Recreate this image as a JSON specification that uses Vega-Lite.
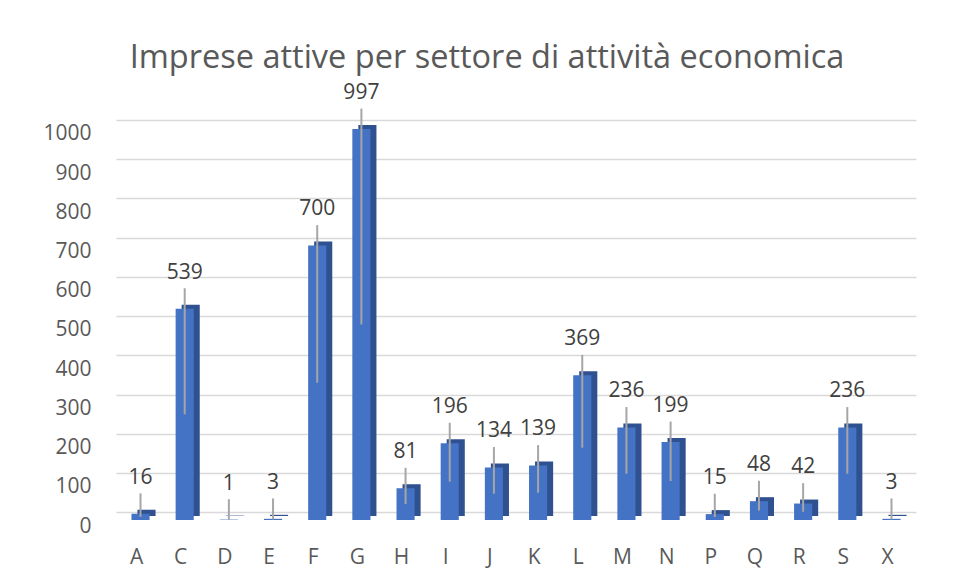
{
  "$schema": "https://vega.github.io/schema/vega-lite/v6.json",
  "width": 800,
  "height": 400,
  "autosize": "none",
  "padding": {"left": 116, "top": 120, "right": 41, "bottom": 62},
  "background": "white",
  "title": {
    "text": "Imprese attive per settore di attività economica",
    "font": "Open Sans",
    "fontSize": 32.5,
    "fontWeight": "normal",
    "color": "#595959",
    "anchor": "middle",
    "dx": -29,
    "dy": 69,
    "baseline": "alphabetic",
    "offset": 50
  },
  "config": {
    "view": {"stroke": null},
    "axis": {"labelFont": "Open Sans", "labelColor": "#595959", "labelFontSize": 21, "labelOverlap": false}
  },
  "data": {
    "values": [
      {"k": "A", "v": 16},
      {"k": "C", "v": 539},
      {"k": "D", "v": 1},
      {"k": "E", "v": 3},
      {"k": "F", "v": 700},
      {"k": "G", "v": 997},
      {"k": "H", "v": 81},
      {"k": "I", "v": 196},
      {"k": "J", "v": 134},
      {"k": "K", "v": 139},
      {"k": "L", "v": 369},
      {"k": "M", "v": 236},
      {"k": "N", "v": 199},
      {"k": "P", "v": 15},
      {"k": "Q", "v": 48},
      {"k": "R", "v": 42},
      {"k": "S", "v": 236},
      {"k": "X", "v": 3}
    ]
  },
  "transform": [
    {"calculate": "datum.v / 2", "as": "half"},
    {"calculate": "datum.v + 92", "as": "lab"},
    {"calculate": "datum.v + 52", "as": "top"}
  ],
  "resolve": {"scale": {"y": "independent"}},
  "layer": [
    {
      "mark": {"type": "bar", "opacity": 0},
      "encoding": {
        "x": {
          "field": "k",
          "type": "nominal",
          "scale": {"paddingInner": 0.59, "paddingOuter": 0.35},
          "axis": {
            "title": null,
            "domain": false,
            "ticks": false,
            "tickSize": 0,
            "labelAngle": 0,
            "labelBaseline": "middle",
            "labelPadding": 37,
            "labelOffset": -4,
            "grid": false
          }
        },
        "y": {
          "field": "v",
          "type": "quantitative",
          "scale": {"domain": [-20, 1000], "nice": false, "zero": false},
          "axis": {
            "orient": "right",
            "values": [0, 100, 200, 300, 400, 500, 600, 700, 800, 900, 1000],
            "tickCount": 11,
            "grid": true,
            "gridColor": "#D9D9D9",
            "gridWidth": 1.5,
            "labels": false,
            "ticks": false,
            "domain": false,
            "title": null
          }
        }
      }
    },
    {
      "layer": [
        {
          "mark": {"type": "bar", "color": "#2F5190", "xOffset": 6, "yOffset": -4},
          "encoding": {
            "x": {"field": "k", "type": "nominal"},
            "y": {
              "field": "v",
              "type": "quantitative",
              "scale": {"domain": [0, 1020], "nice": false},
              "axis": {
                "orient": "left",
                "values": [0, 100, 200, 300, 400, 500, 600, 700, 800, 900, 1000],
                "tickCount": 11,
                "format": "d",
                "labelOverlap": false,
                "grid": false,
                "ticks": false,
                "tickSize": 0,
                "domain": false,
                "labelPadding": 25,
                "labelOffset": 6,
                "title": null
              }
            }
          }
        },
        {
          "mark": {"type": "bar", "color": "#4472C4"},
          "encoding": {
            "x": {"field": "k", "type": "nominal"},
            "y": {"field": "v", "type": "quantitative"}
          }
        },
        {
          "mark": {"type": "rule", "color": "#A6A6A6", "strokeWidth": 2},
          "encoding": {
            "x": {"field": "k", "type": "nominal"},
            "y": {"field": "half", "type": "quantitative"},
            "y2": {"field": "top"}
          }
        },
        {
          "mark": {"type": "text", "font": "Open Sans", "fontSize": 21, "color": "#404040", "baseline": "middle"},
          "encoding": {
            "x": {"field": "k", "type": "nominal"},
            "y": {"field": "lab", "type": "quantitative"},
            "text": {"field": "v", "type": "quantitative"}
          }
        }
      ]
    }
  ]
}
